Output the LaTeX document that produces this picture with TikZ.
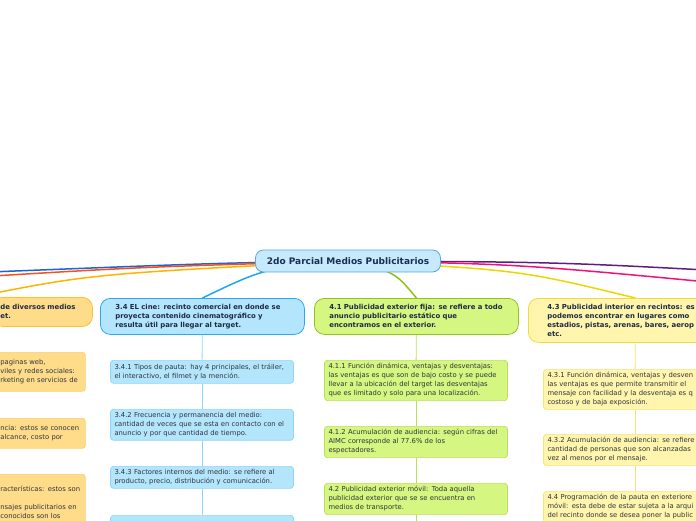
\documentclass[tikz,border=0pt]{standalone}
\usepackage{fontspec}
\setmainfont{DejaVu Sans}
\usetikzlibrary{backgrounds}
\definecolor{RootFill}{HTML}{C6E9FB}
\definecolor{RootLine}{HTML}{56A8DE}
\definecolor{RootInk}{HTML}{1B2D50}
\definecolor{TopicInk}{HTML}{1E2A44}
\definecolor{LeafInk}{HTML}{30343C}
\definecolor{CineFill}{HTML}{B3E5FC}
\definecolor{CineLine}{HTML}{29AAF0}
\definecolor{CineLeaf}{HTML}{8ED5F7}
\definecolor{FijaFill}{HTML}{D5F680}
\definecolor{FijaLine}{HTML}{93C21F}
\definecolor{FijaLeaf}{HTML}{B9E05C}
\definecolor{InterFill}{HTML}{FFF5AD}
\definecolor{InterLine}{HTML}{F5D83F}
\definecolor{InterLeaf}{HTML}{F7E27E}
\definecolor{WebFill}{HTML}{FFDC8A}
\definecolor{WebLine}{HTML}{FBC02D}
\definecolor{WebLeaf}{HTML}{FCD06A}
\definecolor{BrBlue}{HTML}{1E63D6}
\definecolor{BrRed}{HTML}{F4511E}
\definecolor{BrOrange}{HTML}{FFB300}
\definecolor{BrCine}{HTML}{1DA7EE}
\definecolor{BrGreen}{HTML}{8CC01C}
\definecolor{BrYellow}{HTML}{EDD500}
\definecolor{BrPurple}{HTML}{5E1E7E}
\definecolor{BrPink}{HTML}{F0127A}

\tikzset{
  root/.style={draw=RootLine,fill=RootFill,line width=0.8pt,rounded corners=8pt,
    text=RootInk,font=\fontsize{9}{11}\selectfont\bfseries,minimum width=185,minimum height=22},
  topic/.style 2 args={draw=#2,fill=#1,line width=0.8pt,rounded corners=10pt,text=TopicInk,
    font=\fontsize{6.9}{9}\selectfont\bfseries,align=left,anchor=north west,
    inner xsep=15,inner ysep=5.5},
  leaf/.style 2 args={draw=#2,fill=#1,line width=0.7pt,rounded corners=3pt,text=LeafInk,
    font=\fontsize{6.8}{9}\selectfont,align=left,anchor=north,
    inner xsep=4,inner ysep=3.2,text width=175},
  webleaf/.style={leaf={WebFill}{WebLeaf},anchor=north west,text width=81},
  branch/.style={draw=#1,line width=1.5pt},
  stem/.style={draw=#1,line width=0.8pt}
}

\begin{document}
\begin{tikzpicture}[x=1pt,y=1pt]
  \useasboundingbox (0,0) rectangle (696,-520);

  \node[root] (root) at (348,-261) {2do Parcial Medios Publicitarios};

  % primer nivel
  \node[topic={WebFill}{WebLine},inner xsep=8,text width=84,minimum height=29] (web) at (-8,-297)
    {de diversos medios\\et.};
  \node[topic={CineFill}{CineLine},text width=174,minimum height=36] (n34) at (100,-298)
    {3.4 EL cine: recinto comercial en donde se\\proyecta contenido cinematográfico y\\resulta útil para llegar al target.};
  \node[topic={FijaFill}{FijaLine},text width=174,minimum height=36] (n41) at (314,-298)
    {4.1 Publicidad exterior fija: se refiere a todo\\anuncio publicitario estático que\\encontramos en el exterior.};
  \node[topic={InterFill}{InterLine},inner xsep=19,text width=176,minimum height=44] (n43) at (528,-298)
    {4.3 Publicidad interior en recintos: es\\podemos encontrar en lugares como\\estadios, pistas, arenas, bares, aerop\\etc.};

  % segundo nivel
  \node[webleaf,minimum height=39] (web1) at (-4,-352)
    {paginas web,\\\mbox{viles y redes sociales:}\\\mbox{rketing en servicios de}};
  \node[webleaf,minimum height=30] (web2) at (-4,-418)
    {\mbox{ncia: estos se conocen}\\alcance, costo por};
  \node[webleaf,minimum height=56] (web3) at (-4,-474)
    {\mbox{racterísticas: estos son}\\[9pt]\mbox{nsajes publicitarios en}\\conocidos son los};

  \node[leaf={CineFill}{CineLeaf},minimum height=23] (n341) at (202,-360)
    {3.4.1 Tipos de pauta: hay 4 principales, el tráiler,\\el interactivo, el filmet y la mención.};
  \node[leaf={CineFill}{CineLeaf},minimum height=30] (n342) at (202,-409)
    {3.4.2 Frecuencia y permanencia del medio:\\cantidad de veces que se esta en contacto con el\\anuncio y por que cantidad de tiempo.};
  \node[leaf={CineFill}{CineLeaf},minimum height=22] (n343) at (202,-466)
    {3.4.3 Factores internos del medio: se refiere al\\producto, precio, distribución y comunicación.};
  \node[leaf={CineFill}{CineLeaf},minimum height=23] (n344) at (202,-515)
    {3.4.4};

  \node[leaf={FijaFill}{FijaLeaf},minimum height=40] (n411) at (416,-360)
    {4.1.1 Función dinámica, ventajas y desventajas:\\las ventajas es que son de bajo costo y se puede\\llevar a la ubicación del target las desventajas\\que es limitado y solo para una localización.};
  \node[leaf={FijaFill}{FijaLeaf},minimum height=31] (n412) at (416,-426)
    {4.1.2 Acumulación de audiencia: según cifras del\\AIMC corresponde al 77.6\% de los\\espectadores.};
  \node[leaf={FijaFill}{FijaLeaf},minimum height=31] (n42) at (416,-483)
    {4.2 Publicidad exterior móvil: Toda aquella\\publicidad exterior que se se encuentra en\\medios de transporte.};
  \coordinate (n42tail) at (416,-540);

  \node[leaf={InterFill}{InterLeaf},minimum height=39] (n431) at (635,-369)
    {4.3.1 Función dinámica, ventajas y desven\\las ventajas es que permite transmitir el\\mensaje con facilidad y la desventaja es q\\costoso y de baja exposición.};
  \node[leaf={InterFill}{InterLeaf},minimum height=31] (n432) at (635,-434)
    {4.3.2 Acumulación de audiencia: se refiere\\cantidad de personas que son alcanzadas\\vez al menos por el mensaje.};
  \node[leaf={InterFill}{InterLeaf},minimum height=31] (n44) at (635,-491)
    {4.4 Programación de la pauta en exteriore\\móvil: esta debe de estar sujeta a la arqui\\del recinto donde se desea poner la public};

  % ramas fuera del cuadro
  \coordinate (blueEnd) at (-60,-274);
  \coordinate (redEnd) at (-40,-278);
  \coordinate (orangeEnd) at (-25,-297);
  \coordinate (purpleEnd) at (760,-273);
  \coordinate (pinkEnd) at (760,-287);

  \begin{scope}[on background layer]
    \draw[branch=BrBlue] (root.center) .. controls (215,-263) .. (blueEnd);
    \draw[branch=BrRed] (root.center) .. controls (140,-267) .. (redEnd);
    \draw[branch=BrOrange] (root.center) .. controls (91,-274) .. (orangeEnd);
    \draw[branch=BrCine] (root.center) .. controls (265,-268) .. (n34.north);
    \draw[branch=BrGreen] (root.center) .. controls (395,-272) .. (n41.north);
    \draw[branch=BrYellow] (root.center) .. controls (520,-270) .. (n43.north);
    \draw[branch=BrPurple] (root.center) .. controls (560,-262) .. (purpleEnd);
    \draw[branch=BrPink] (root.center) .. controls (520,-264) .. (pinkEnd);
  \end{scope}

  \draw[stem=CineLeaf] (n34) -- (n341);
  \draw[stem=CineLeaf] (n341) -- (n342);
  \draw[stem=CineLeaf] (n342) -- (n343);
  \draw[stem=CineLeaf] (n343) -- (n344);
  \draw[stem=FijaLeaf] (n41) -- (n411);
  \draw[stem=FijaLeaf] (n411) -- (n412);
  \draw[stem=FijaLeaf] (n412) -- (n42);
  \draw[stem=FijaLeaf] (n42) -- (n42tail);
  \draw[stem=InterLeaf] (n43) -- (n431);
  \draw[stem=InterLeaf] (n431) -- (n432);
  \draw[stem=InterLeaf] (n432) -- (n44);
\end{tikzpicture}
\end{document}
